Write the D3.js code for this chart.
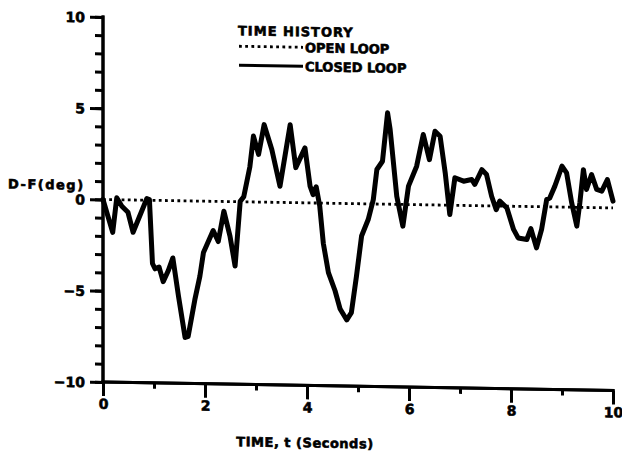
<!DOCTYPE html>
<html>
<head>
<meta charset="utf-8">
<script src="https://cdn.jsdelivr.net/npm/d3@7"></script>
<style>
  html, body { margin: 0; padding: 0; background: #fff; }
  svg { display: block; }
  text { font-family: "DejaVu Sans", sans-serif; font-weight: bold; fill: #000; stroke: #000; stroke-width: 0.6px; }
</style>
</head>
<body>
<svg id="chart" width="622" height="457"></svg>
<script>
// ---- data ----
const closedT = [0.00,0.19,0.27,0.37,0.49,0.59,0.86,0.91,0.97,1.02,1.10,1.18,1.28,1.37,1.48,1.61,1.67,1.80,1.90,1.97,
  2.16,2.26,2.37,2.49,2.59,2.69,2.76,2.88,2.95,3.05,3.16,3.31,3.47,3.67,3.78,3.96,4.06,4.12,4.18,4.25,
  4.32,4.42,4.55,4.65,4.78,4.87,4.97,5.07,5.20,5.30,5.37,5.48,5.58,5.63,5.76,5.88,5.99,6.15,6.28,6.40,
  6.51,6.61,6.71,6.80,6.90,7.07,7.23,7.29,7.43,7.52,7.62,7.71,7.78,7.92,8.05,8.14,8.31,8.39,8.50,8.60,
  8.70,8.76,8.86,9.00,9.09,9.19,9.29,9.35,9.42,9.48,9.58,9.68,9.78,9.89,10.00];
const closedV = [0.00,-1.79,0.11,-0.35,-0.68,-1.77,0.09,0.04,-3.46,-3.75,-3.65,-4.45,-3.84,-3.14,-5.23,-7.49,-7.42,-5.42,-4.11,-2.81,
  -1.60,-2.20,-0.53,-1.89,-3.53,0.02,0.28,1.93,3.61,2.61,4.25,2.89,0.89,4.27,1.92,3.01,0.92,0.46,0.89,-0.17,
  -2.20,-3.80,-4.79,-5.79,-6.38,-5.98,-3.97,-1.77,-0.86,0.24,1.89,2.35,5.01,4.10,0.44,-1.19,1.01,2.11,3.85,2.48,
  4.04,3.77,1.77,-0.51,1.51,1.33,1.43,1.16,1.98,1.72,0.53,-0.20,0.27,-0.10,-1.27,-1.73,-1.81,-1.21,-2.26,-1.24,
  0.40,0.49,1.14,2.24,1.88,0.24,-1.03,0.25,2.07,0.99,1.81,1.00,0.91,1.55,0.37];
const openT = [0, 2, 4, 6, 8, 10];
const openV = [0, 0, 0, 0, 0, 0];
const xMajorTicks = [0, 2, 4, 6, 8, 10];
const xMinorTicks = [1, 3, 5, 7, 9];
const yMajorTicks = [-10, -5, 0, 5, 10];
const yMinorTicks = d3.range(-10, 11, 1);
const xTitle = "TIME, t (Seconds)";
const yTitle = "D-F(deg)";
const legendTitle = "TIME HISTORY";
const seriesNames = ["OPEN LOOP", "CLOSED LOOP"];

// ---- layout ----
const svg = d3.select("#chart");
// the scanned plot is slightly tilted: emulate with a small shear
const g = svg.append("g").attr("transform", "matrix(1,0.0165,0,1,0,-1.70)");

const x = d3.scaleLinear().domain([0, 10]).range([103, 613]);
const y = d3.scaleLinear().domain([-10, 10]).range([382, 17]);

const axisStroke = 3;

// Y axis minor ticks
const yMinor = g.append("g").attr("transform", `translate(${x(0)},0)`)
  .call(d3.axisLeft(y).tickValues(yMinorTicks).tickSize(8).tickFormat(""));
// Y axis major ticks + labels
const yMajor = g.append("g").attr("transform", `translate(${x(0)},0)`)
  .call(d3.axisLeft(y).tickValues(yMajorTicks).tickSize(13).tickPadding(5).tickFormat(d3.format("d")));
// X axis minor
const xMinor = g.append("g").attr("transform", `translate(0,${y(-10)})`)
  .call(d3.axisBottom(x).tickValues(xMinorTicks).tickSize(6).tickFormat(""));
// X axis major
const xMajor = g.append("g").attr("transform", `translate(0,${y(-10)})`)
  .call(d3.axisBottom(x).tickValues(xMajorTicks).tickSize(14).tickPadding(3).tickFormat(d3.format("d")));

[yMinor, yMajor, xMinor, xMajor].forEach(a => {
  a.selectAll("path.domain").attr("stroke", "#000").attr("stroke-width", axisStroke).attr("stroke-linecap", "square");
  a.selectAll(".tick line").attr("stroke", "#000").attr("stroke-width", axisStroke);
  a.selectAll(".tick text").style("font-size", "14px").style("font-family", "'DejaVu Sans', sans-serif")
    .style("font-weight", "bold").style("stroke", "#000").style("stroke-width", "0.6px");
});
yMinor.selectAll("path.domain").attr("d", `M0,${y(10)}V${y(-10)}`);
yMajor.selectAll("path.domain").attr("d", `M0,${y(10)}V${y(-10)}`);
xMinor.selectAll("path.domain").attr("d", `M${x(0)},0H${x(10)}`);
xMajor.selectAll("path.domain").attr("d", `M${x(0)},0H${x(10)}`);
yMajor.selectAll(".tick text").attr("dy", "0.36em");

// ---- lines ----
const openData = openT.map((t, i) => [t, openV[i]]);
const closedData = closedT.map((t, i) => [t, closedV[i]]);
const line = d3.line().x(d => x(d[0])).y(d => y(d[1]));

g.append("path").datum(openData)
  .attr("d", line).attr("fill", "none").attr("stroke", "#000")
  .attr("stroke-width", 2.8).attr("stroke-dasharray", "2.8,3.4");

g.append("path").datum(closedData)
  .attr("d", line).attr("fill", "none").attr("stroke", "#000")
  .attr("stroke-width", 5).attr("stroke-linejoin", "round").attr("stroke-linecap", "round");

// ---- titles ----
g.append("text").attr("x", 8).attr("y", 190).style("font-size", "13px").style("letter-spacing", "1.5px").text(yTitle);
g.append("text").attr("x", 305).attr("y", 444).attr("text-anchor", "middle")
  .style("font-size", "13px").style("letter-spacing", "0.5px").text(xTitle);

// ---- legend ----
const lg = g.append("g");
lg.append("text").attr("x", 238).attr("y", 33).style("font-size", "13px").style("letter-spacing", "1px").text(legendTitle);
lg.append("line").attr("x1", 239).attr("x2", 303).attr("y1", 44).attr("y2", 44)
  .attr("stroke", "#000").attr("stroke-width", 2.8).attr("stroke-dasharray", "2.8,3.4");
lg.append("text").attr("x", 305).attr("y", 49).style("font-size", "13px").text(seriesNames[0]);
lg.append("line").attr("x1", 239).attr("x2", 303).attr("y1", 63).attr("y2", 63)
  .attr("stroke", "#000").attr("stroke-width", 3);
lg.append("text").attr("x", 305).attr("y", 68).style("font-size", "13px").text(seriesNames[1]);
</script>
</body>
</html>
